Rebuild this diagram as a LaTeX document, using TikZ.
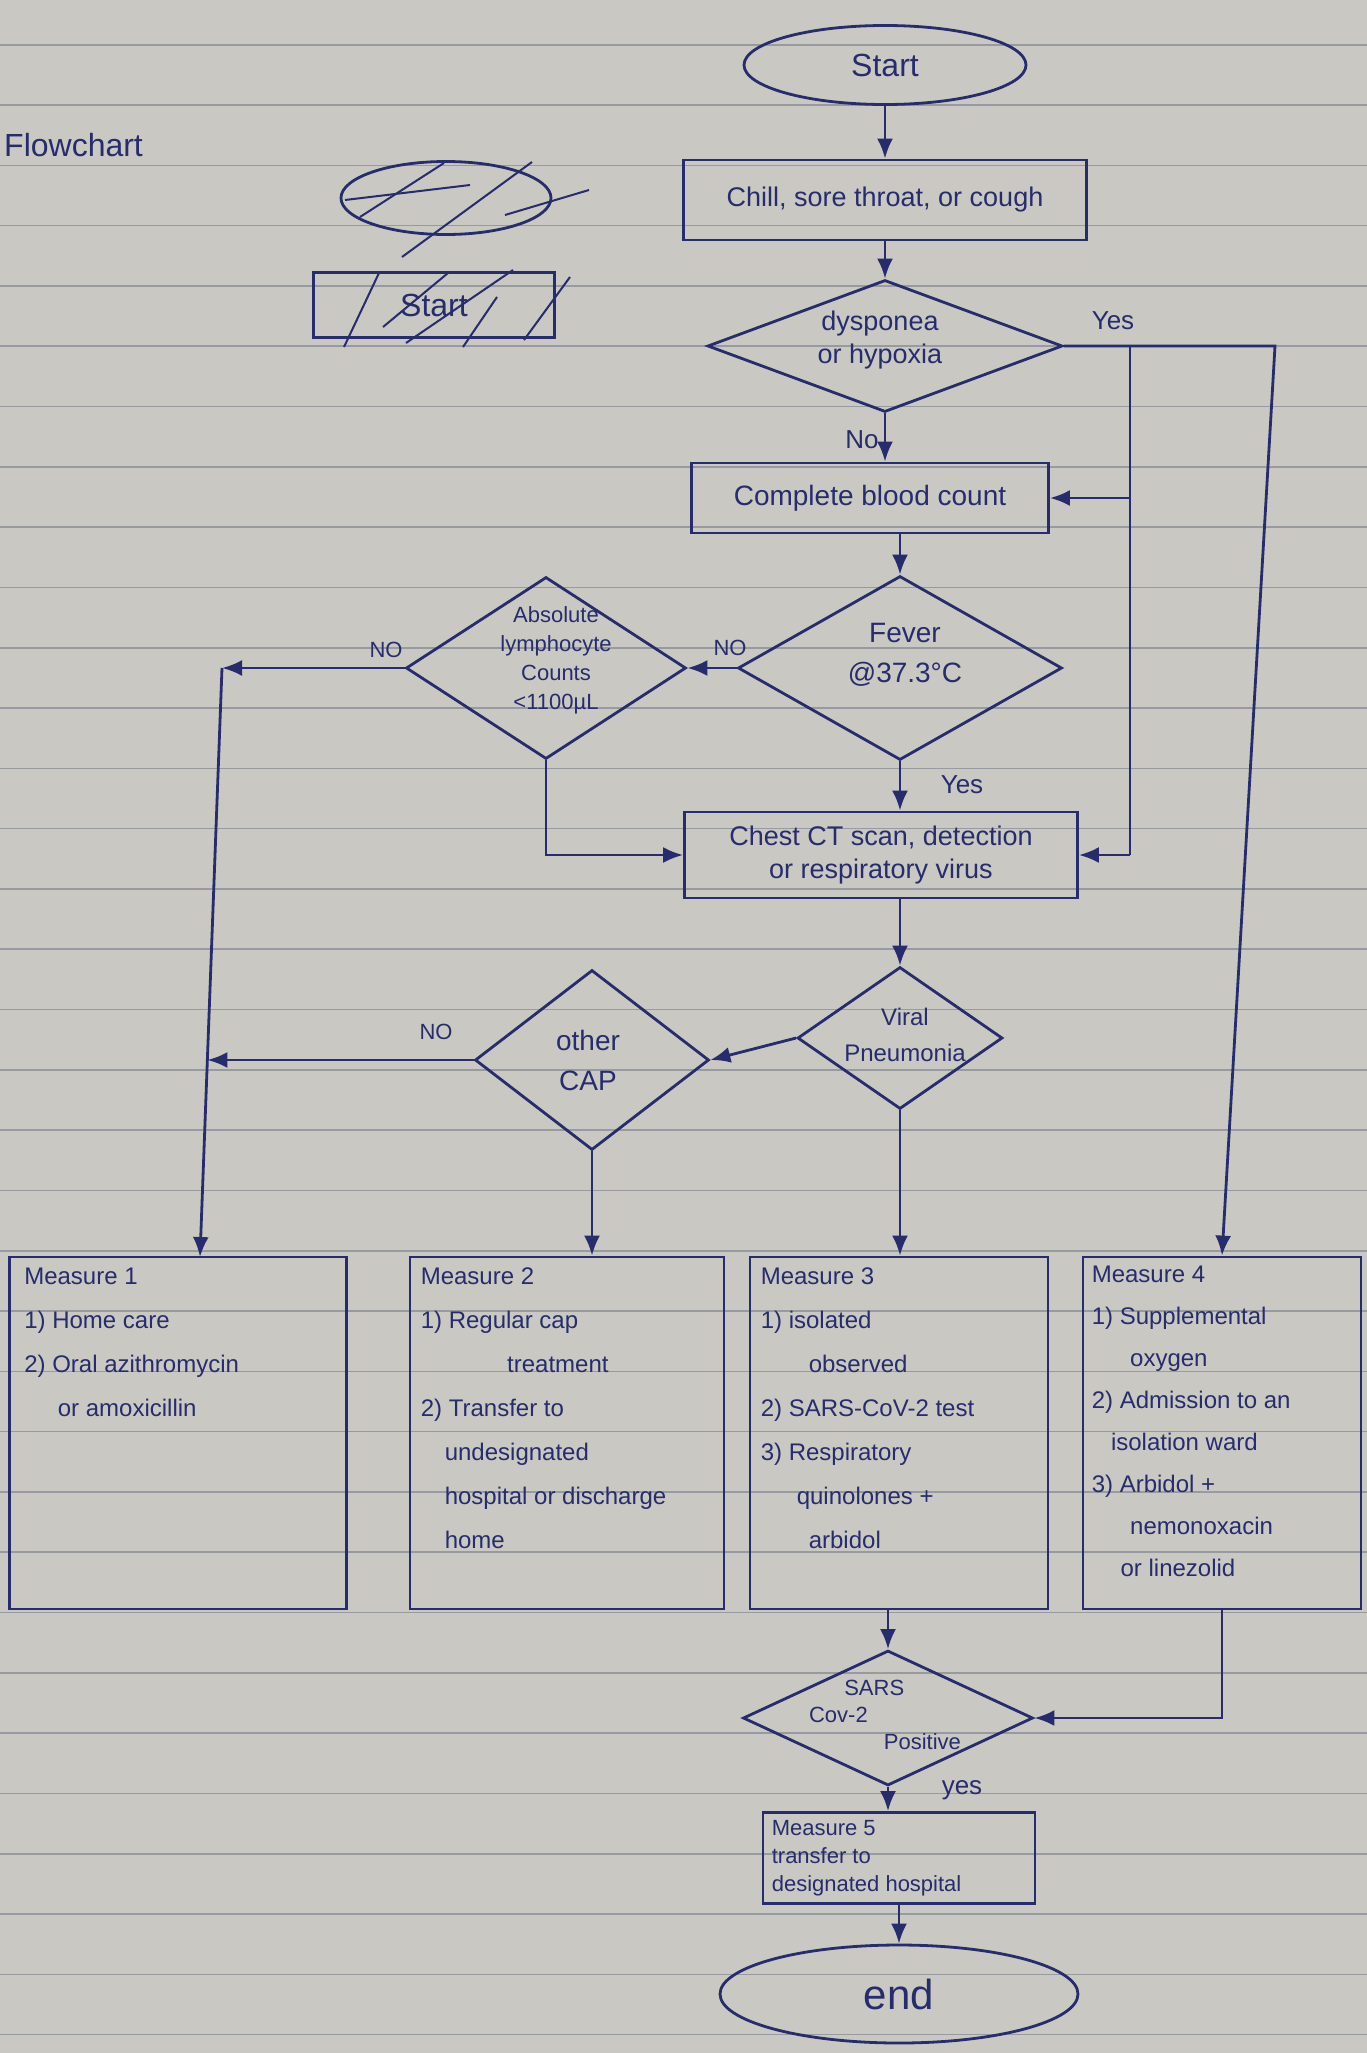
\documentclass[tikz,border=0pt]{standalone}
\usepackage{fontspec}
\setmainfont{Liberation Sans}
\usetikzlibrary{shapes.geometric,arrows.meta,calc}
\definecolor{paper}{RGB}{202,200,194}
\definecolor{rulecol}{RGB}{152,154,162}
\definecolor{ink}{RGB}{38,44,108}
\begin{document}
\begin{tikzpicture}[x=1pt,y=-1pt,
  every node/.style={text=ink},
  ln/.style={draw=ink,line width=2.8pt},
  arr/.style={ln,-{Latex[length=20pt,width=16pt]}},
  box/.style={ln,rectangle,inner sep=0pt},
  dia/.style={ln,diamond,inner sep=0pt},
  oval/.style={ln,ellipse,inner sep=0pt},
  txt/.style={font=\fontsize{27}{33}\selectfont,align=center,inner sep=0pt},
  mtxt/.style={font=\fontsize{24}{44}\selectfont,align=left,inner sep=0pt,anchor=north west},
  lbl/.style={font=\fontsize{26}{30}\selectfont,inner sep=0pt}
]
\fill[paper] (0,0) rectangle (1367,2053);
\useasboundingbox (0,0) rectangle (1367,2053);
\foreach \k in {-1,...,32}
  \draw[rulecol,line width=1.6pt] (0,{105+60.3*\k}) -- (1367,{105+60.3*\k});

% crossed-out drafts, top left
\node[anchor=west,font=\fontsize{32}{36}\selectfont,inner sep=0pt] (title) at (4,145) {Flowchart};
\node[oval,minimum width=210,minimum height=73] (scrib) at (446,198) {};
\draw[ln,line width=2pt] (360,217) -- (444,163);
\draw[ln,line width=2pt] (402,257) -- (532,162);
\draw[ln,line width=2pt] (505,215) -- (589,190);
\draw[ln,line width=2pt] (345,200) -- (470,185);
\node[box,minimum width=241,minimum height=65,font=\fontsize{32}{36}\selectfont] (oldstart) at (434,305) {Start};
\draw[ln,line width=2pt] (344,347) -- (379,273);
\draw[ln,line width=2pt] (383,327) -- (448,273);
\draw[ln,line width=2pt] (406,343) -- (513,270);
\draw[ln,line width=2pt] (463,347) -- (497,297);
\draw[ln,line width=2pt] (524,340) -- (570,277);

% main flow
\node[oval,minimum width=282,minimum height=79,font=\fontsize{32}{36}\selectfont] (start) at (885,65) {Start};
\node[box,minimum width=403,minimum height=80,txt] (chill) at (885,200) {Chill, sore throat, or cough};
\node[dia,minimum width=355,minimum height=132] (dys) at (885,346) {};
\node[txt] (dyst) at (880,340) {dysponea\\or hypoxia};
\node[box,minimum width=357,minimum height=70,font=\fontsize{28}{33}\selectfont] (cbc) at (870,498) {Complete blood count};
\node[dia,minimum width=324,minimum height=184] (fever) at (900,668) {};
\node[txt,font=\fontsize{28}{40}\selectfont] (fevert) at (905,655) {Fever\\@37.3°C};
\node[dia,minimum width=280,minimum height=182] (abs) at (546,668) {};
\node[txt,font=\fontsize{22}{29}\selectfont] (abst) at (556,660) {Absolute\\lymphocyte\\Counts\\<1100µL};
\node[box,minimum width=393,minimum height=86,txt] (ct) at (881,855) {Chest CT scan, detection\\or respiratory virus};
\node[dia,minimum width=205,minimum height=142] (viral) at (900,1038) {};
\node[txt,font=\fontsize{24}{36}\selectfont] (viralt) at (905,1035) {Viral\\Pneumonia};
\node[dia,minimum width=234,minimum height=180] (other) at (592,1060) {};
\node[txt,font=\fontsize{28}{40}\selectfont] (othert) at (588,1060) {other\\CAP};

\node[box,minimum width=337,minimum height=352] (m1) at (178,1433) {};
\node[box,minimum width=314,minimum height=352] (m2) at (567,1433) {};
\node[box,minimum width=298,minimum height=352] (m3) at (899,1433) {};
\node[box,minimum width=278,minimum height=352] (m4) at (1222,1433) {};
\node[mtxt] (m1t) at ($(m1.north west)+(16,12)$) {Measure 1\\1) Home care\\2) Oral azithromycin\\\hspace*{1.4em}or amoxicillin};
\node[mtxt] (m2t) at ($(m2.north west)+(12,12)$) {Measure 2\\1) Regular cap\\\hspace*{3.6em}treatment\\2) Transfer to\\\hspace*{1.0em}undesignated\\\hspace*{1.0em}hospital or discharge\\\hspace*{1.0em}home};
\node[mtxt] (m3t) at ($(m3.north west)+(12,12)$) {Measure 3\\1) isolated\\\hspace*{2em}observed\\2) SARS-CoV-2 test\\3) Respiratory\\\hspace*{1.5em}quinolones +\\\hspace*{2em}arbidol};
\node[mtxt,font=\fontsize{24}{42}\selectfont] (m4t) at ($(m4.north west)+(10,10)$) {Measure 4\\1) Supplemental\\\hspace*{1.6em}oxygen\\2) Admission to an\\\hspace*{0.8em}isolation ward\\3) Arbidol +\\\hspace*{1.6em}nemonoxacin\\\hspace*{1.2em}or linezolid};

\node[dia,minimum width=290,minimum height=135] (sars) at (888,1718) {};
\node[txt,font=\fontsize{22}{27}\selectfont,align=left] (sarst) at (885,1715) {\hspace*{1.6em}SARS\\Cov-2\\\hspace*{3.4em}Positive};
\node[box,minimum width=272,minimum height=91] (m5) at (899,1858) {};
\node[txt,font=\fontsize{22}{28}\selectfont,align=left,anchor=west] (m5t) at ($(m5.west)+(10,0)$) {Measure 5\\transfer to\\designated hospital};
\node[oval,minimum width=358,minimum height=98,font=\fontsize{42}{46}\selectfont] (end) at (899,1994) {end};

% connectors
\draw[arr] (start.south) -- (chill.north);
\draw[arr] (chill.south) -- (dys.north);
\draw[arr] (dys.south) -- (dys.south |- cbc.north);
\draw[arr] (fever.north |- cbc.south) -- (fever.north);
\draw[arr] (fever.west) -- (abs.east);
\draw[arr] (fever.south) -- (fever.south |- ct.north);
\draw[arr] (abs.south) -- (abs.south |- ct.west) -- (ct.west);
\draw[arr] (viral.north |- ct.south) -- (viral.north);
\draw[arr] (viral.west) -- (other.east);
\draw[arr] (other.south) -- (other.south |- m2.north);
\draw[arr] (viral.south) -- (viral.south |- m3.north);

% yes branch of dyspnoea
\coordinate (ya) at (1275,346);
\coordinate (bt) at (1130,346);
\coordinate (bb) at (1130,855);
\coordinate (bm) at (1130,498);
\draw[arr] (dys.east) -- (ya) -- (m4.north);
\draw[ln] (bt) -- (bb);
\draw[arr] (bm) -- (cbc.east);
\draw[arr] (bb) -- (ct.east);

% NO branches to measure 1
\coordinate (j1) at (222,668);
\coordinate (m1in) at (200,1257);
\coordinate (j2) at ($(j1)!0.6655!(m1in)$);
\draw[arr] (abs.west) -- (j1);
\draw[arr] (j1) -- (m1in);
\draw[arr] (other.west) -- (other.west -| j2);

% SARS
\draw[arr] (sars.north |- m3.south) -- (sars.north);
\draw[arr] (m4.south) -- (m4.south |- sars.east) -- (sars.east);
\draw[arr] (sars.south) -- (sars.south |- m5.north);
\draw[arr] (m5.south) -- (end.north);

% labels
\node[lbl] (lyes1) at (1113,321) {Yes};
\node[lbl] (lno1) at (862,440) {No};
\node[lbl,font=\fontsize{22}{26}\selectfont] (lno2) at (730,648) {NO};
\node[lbl,font=\fontsize{22}{26}\selectfont] (lno3) at (386,650) {NO};
\node[lbl] (lyes2) at (962,785) {Yes};
\node[lbl,font=\fontsize{22}{26}\selectfont] (lno4) at (436,1032) {NO};
\node[lbl] (lyes3) at (962,1790) {yes};
\end{tikzpicture}
\end{document}
